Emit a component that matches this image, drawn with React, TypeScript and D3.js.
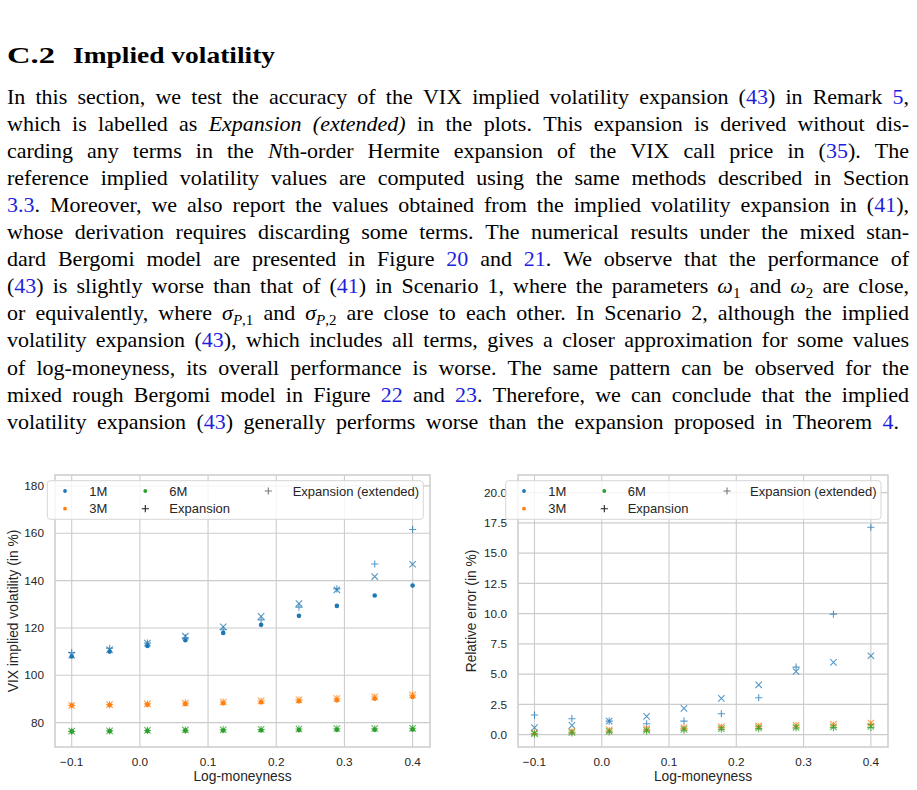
import { useEffect, useRef } from "react";
import * as d3 from "d3";

// log-moneyness grid
const moneyness = [-0.1, -0.0444, 0.0111, 0.0667, 0.1222, 0.1778, 0.2333, 0.2889, 0.3444, 0.4];

// VIX implied volatility (in %)
const ivRef1M = [107.9, 110.0, 112.4, 114.8, 117.9, 121.3, 125.1, 129.3, 133.7, 137.9];
const ivExp1M = [109.6, 111.4, 113.6, 115.8, 119.2, 123.4, 128.8, 136.5, 147.0, 161.6];
const ivExt1M = [108.5, 110.8, 113.6, 116.5, 120.5, 124.9, 130.3, 136.1, 141.7, 146.9];
const ivRef3M = [87.2, 87.4, 87.6, 87.9, 88.2, 88.6, 89.0, 89.5, 90.1, 90.8];
const ivExp3M = [87.3, 87.6, 87.9, 88.3, 88.7, 89.1, 89.6, 90.1, 90.8, 91.6];
const ivExt3M = [87.3, 87.6, 87.9, 88.3, 88.7, 89.2, 89.6, 90.2, 90.9, 91.7];
const ivRef6M = [76.3, 76.4, 76.5, 76.6, 76.7, 76.8, 76.9, 77.0, 77.0, 77.1];
const ivExp6M = [76.3, 76.5, 76.7, 76.8, 77.0, 77.1, 77.3, 77.4, 77.4, 77.6];
const ivExt6M = [76.4, 76.5, 76.7, 76.9, 77.0, 77.2, 77.3, 77.5, 77.5, 77.6];

// relative error (in %)
const errExp1M = [1.62, 1.32, 1.12, 0.9, 1.12, 1.73, 3.05, 5.58, 9.96, 17.14];
const errExt1M = [0.58, 0.77, 1.12, 1.51, 2.17, 3.0, 4.12, 5.22, 5.97, 6.52];
const errExp3M = [0.1, 0.22, 0.32, 0.42, 0.52, 0.6, 0.66, 0.72, 0.78, 0.85];
const errExt3M = [0.15, 0.28, 0.4, 0.5, 0.58, 0.66, 0.72, 0.78, 0.85, 0.95];
const errExp6M = [0.05, 0.14, 0.22, 0.3, 0.38, 0.45, 0.5, 0.55, 0.58, 0.6];
const errExt6M = [0.08, 0.18, 0.27, 0.36, 0.44, 0.5, 0.56, 0.6, 0.64, 0.68];

const maturities = ["1M", "3M", "6M"];
const matColors = ["#1f77b4", "#ff7f0e", "#2ca02c"];
const xTicks = [-0.1, 0.0, 0.1, 0.2, 0.3, 0.4];
const ivTicks = [80, 100, 120, 140, 160, 180];
const errTicks = [0, 2.5, 5, 7.5, 10, 12.5, 15, 17.5, 20];

const heading = ["C.2", "Implied volatility"];
const paragraph = [
    "In this section, we test the accuracy of the VIX implied volatility expansion ({b|43}) in Remark {b|5},",
    "which is labelled as {i|Expansion (extended)} in the plots. This expansion is derived without dis-",
    "carding any terms in the {i|N}th-order Hermite expansion of the VIX call price in ({b|35}). The",
    "reference implied volatility values are computed using the same methods described in Section",
    "{b|3.3}. Moreover, we also report the values obtained from the implied volatility expansion in ({b|41}),",
    "whose derivation requires discarding some terms. The numerical results under the mixed stan-",
    "dard Bergomi model are presented in Figure {b|20} and {b|21}. We observe that the performance of",
    "({b|43}) is slightly worse than that of ({b|41}) in Scenario 1, where the parameters {i|ω}{s|1} and {i|ω}{s|2} are close,",
    "or equivalently, where {i|σ}{si|P}{s|,1} and {i|σ}{si|P}{s|,2} are close to each other. In Scenario 2, although the implied",
    "volatility expansion ({b|43}), which includes all terms, gives a closer approximation for some values",
    "of log-moneyness, its overall performance is worse. The same pattern can be observed for the",
    "mixed rough Bergomi model in Figure {b|22} and {b|23}. Therefore, we can conclude that the implied",
    "volatility expansion ({b|43}) generally performs worse than the expansion proposed in Theorem {b|4}.",
];

type Seg = { t: string; s: string };

function parseLine(src: string): Seg[][] {
    const segs: Seg[] = [];
    const re = /\{(\w+)\|([^}]*)\}/g;
    let last = 0;
    let m: RegExpExecArray | null;
    while ((m = re.exec(src))) {
        if (m.index > last) segs.push({ t: src.slice(last, m.index), s: "n" });
        segs.push({ t: m[2], s: m[1] });
        last = re.lastIndex;
    }
    if (last < src.length) segs.push({ t: src.slice(last), s: "n" });
    const words: Seg[][] = [[]];
    segs.forEach(seg => {
        seg.t.split(/( +)/).forEach(part => {
            if (part === "") return;
            if (/^ +$/.test(part)) {
                if (words[words.length - 1].length) words.push([]);
            } else words[words.length - 1].push({ t: part, s: seg.s });
        });
    });
    return words.filter(w => w.length);
}

const SANS = "'Liberation Sans', Arial, sans-serif";
const SERIF = "'Liberation Serif', 'Times New Roman', serif";
const INK = "#262626";
const GRID = "#cccccc";
const LINK = "#1f1fe0";

export default function App() {
    const svgRef = useRef<SVGSVGElement>(null);

    useEffect(() => {
        if (!svgRef.current) return;
        const svg = d3.select(svgRef.current);
        svg.selectAll("*").remove();

        // ---- Text block ----
        const txt = svg.append("g").attr("fill", "#000").attr("font-family", SERIF);
        txt.append("text").attr("x", 7).attr("y", 63).attr("font-size", 24).attr("font-weight", "bold")
            .attr("textLength", 48).attr("lengthAdjust", "spacingAndGlyphs").text(heading[0]);
        txt.append("text").attr("x", 73).attr("y", 63).attr("font-size", 24).attr("font-weight", "bold")
            .attr("textLength", 202).attr("lengthAdjust", "spacingAndGlyphs").text(heading[1]);

        paragraph.forEach((src, li) => {
            const words = parseLine(src);
            const y = 104 + li * 27.05;
            const nodes = words.map(w => {
                const t = txt.append("text").attr("y", y).attr("font-size", 22);
                let sub = false;
                w.forEach(seg => {
                    const span = t.append("tspan").text(seg.t);
                    const isSub = seg.s === "s" || seg.s === "si";
                    if (isSub && !sub) span.attr("dy", 5);
                    if (!isSub && sub) span.attr("dy", -5);
                    sub = isSub;
                    if (isSub) span.attr("font-size", 15);
                    if (seg.s === "i" || seg.s === "si") span.attr("font-style", "italic");
                    if (seg.s === "b") span.attr("fill", LINK);
                });
                return t;
            });
            const widths = nodes.map(n => (n.node() as SVGTextElement).getComputedTextLength());
            const right = li === paragraph.length - 1 ? 899 : 909;
            const gap = (right - 7 - d3.sum(widths)) / (words.length - 1);
            let x = 7;
            nodes.forEach((n, i) => {
                n.attr("x", x);
                x += widths[i] + gap;
            });
        });

        // ---- Charts ----
        const panels = [
            {
                left: 55, right: 430, top: 475, bottom: 747,
                yDomain: [69.7, 184.6], yTicks: ivTicks, yFmt: d3.format("d"),
                yLabel: "VIX implied volatility (in %)", yLabelX: 13,
                series: [
                    [ivRef1M, ivExp1M, ivExt1M],
                    [ivRef3M, ivExp3M, ivExt3M],
                    [ivRef6M, ivExp6M, ivExt6M],
                ],
                legend: { x0: 47.3, x1: 423.3, mx: [65, 145.3, 268.3], tx: [89.3, 169.3, 292.7] },
            },
            {
                left: 518, right: 888, top: 475, bottom: 747,
                yDomain: [-1.02, 21.46], yTicks: errTicks, yFmt: d3.format(".1f"),
                yLabel: "Relative error (in %)", yLabelX: 471,
                series: [
                    [null, errExp1M, errExt1M],
                    [null, errExp3M, errExt3M],
                    [null, errExp6M, errExt6M],
                ],
                legend: { x0: 505.7, x1: 881, mx: [524, 604.3, 727], tx: [548.3, 627.7, 750] },
            },
        ];

        const plusPath = "M-3.6,0H3.6M0,-3.6V3.6";
        const crossPath = "M-3.2,-3.2L3.2,3.2M-3.2,3.2L3.2,-3.2";

        panels.forEach(p => {
            const x = d3.scaleLinear().domain([-0.1245, 0.4255]).range([p.left, p.right]);
            const y = d3.scaleLinear().domain(p.yDomain).range([p.bottom, p.top]);
            const g = svg.append("g").attr("font-family", SANS);

            // grid
            g.append("g").selectAll("line").data(xTicks).join("line")
                .attr("x1", d => x(d)).attr("x2", d => x(d))
                .attr("y1", p.top).attr("y2", p.bottom)
                .attr("stroke", GRID).attr("stroke-width", 1.1);
            g.append("g").selectAll("line").data(p.yTicks).join("line")
                .attr("x1", p.left).attr("x2", p.right)
                .attr("y1", d => y(d)).attr("y2", d => y(d))
                .attr("stroke", GRID).attr("stroke-width", 1.1);

            // tick labels
            g.append("g").selectAll("text").data(xTicks).join("text")
                .attr("x", d => x(d)).attr("y", 765.5)
                .attr("text-anchor", "middle").attr("font-size", 11.8).attr("fill", INK)
                .text(d => d3.format(".1f")(d));
            g.append("g").selectAll("text").data(p.yTicks).join("text")
                .attr("x", p.left - 11).attr("y", d => y(d)).attr("dy", "0.35em")
                .attr("text-anchor", "end").attr("font-size", 11.8).attr("fill", INK)
                .text(d => p.yFmt(d));

            // axis labels
            g.append("text").attr("x", (p.left + p.right) / 2).attr("y", 781)
                .attr("text-anchor", "middle").attr("font-size", 13.8).attr("fill", INK)
                .text("Log-moneyness");
            g.append("text")
                .attr("transform", `translate(${p.yLabelX},${(p.top + p.bottom) / 2}) rotate(-90)`)
                .attr("text-anchor", "middle").attr("dy", "0.35em")
                .attr("font-size", 13.8).attr("fill", INK)
                .text(p.yLabel);

            // points
            p.series.forEach((set, mi) => {
                const col = matColors[mi];
                const [ref, exp, ext] = set;
                if (ref) {
                    g.append("g").selectAll("circle").data(ref).join("circle")
                        .attr("cx", (_, i) => x(moneyness[i])).attr("cy", d => y(d))
                        .attr("r", 2.3).attr("fill", col);
                }
                g.append("g").selectAll("path").data(exp as number[]).join("path")
                    .attr("transform", (d, i) => `translate(${x(moneyness[i])},${y(d)})`)
                    .attr("d", plusPath).attr("stroke", col).attr("stroke-width", 1.1)
                    .attr("fill", "none").attr("opacity", 0.75);
                g.append("g").selectAll("path").data(ext as number[]).join("path")
                    .attr("transform", (d, i) => `translate(${x(moneyness[i])},${y(d)})`)
                    .attr("d", crossPath).attr("stroke", col).attr("stroke-width", 1.1)
                    .attr("fill", "none").attr("opacity", 0.75);
            });

            // frame
            g.append("rect").attr("x", p.left).attr("y", p.top)
                .attr("width", p.right - p.left).attr("height", p.bottom - p.top)
                .attr("fill", "none").attr("stroke", GRID).attr("stroke-width", 1.5);

            // legend
            const L = p.legend;
            const rowY = [491, 508.7];
            g.append("rect").attr("x", L.x0).attr("y", 480.7)
                .attr("width", L.x1 - L.x0).attr("height", 38.6).attr("rx", 3)
                .attr("fill", "#fff").attr("fill-opacity", 0.8)
                .attr("stroke", "#d6d6d6").attr("stroke-width", 1);
            const entries = [
                { col: 0, row: 0, kind: "dot", color: matColors[0], label: maturities[0] },
                { col: 0, row: 1, kind: "dot", color: matColors[1], label: maturities[1] },
                { col: 1, row: 0, kind: "dot", color: matColors[2], label: maturities[2] },
                { col: 1, row: 1, kind: "plus", color: "#222", label: "Expansion" },
                { col: 2, row: 0, kind: "plus", color: "#777", label: "Expansion (extended)" },
            ];
            entries.forEach(e => {
                const mx = L.mx[e.col];
                const my = rowY[e.row];
                if (e.kind === "dot") {
                    g.append("circle").attr("cx", mx).attr("cy", my).attr("r", 1.9).attr("fill", e.color);
                } else {
                    g.append("path").attr("transform", `translate(${mx},${my})`)
                        .attr("d", plusPath).attr("stroke", e.color).attr("stroke-width", 1.1);
                }
                g.append("text").attr("x", L.tx[e.col]).attr("y", my).attr("dy", "0.35em")
                    .attr("font-size", 13).attr("fill", INK).text(e.label);
            });
        });
    }, []);

    return (
        <svg
            ref={svgRef}
            width={917}
            height={790}
            style={{ position: "absolute", left: 0, top: 0, background: "#fff" }}
        />
    );
}
